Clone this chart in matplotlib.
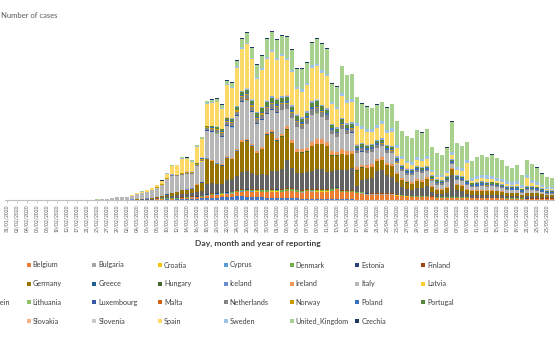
import numpy as np
import pandas as pd
import matplotlib
matplotlib.use("Agg")
import matplotlib.pyplot as plt
from matplotlib.patches import Rectangle

plt.rcParams['font.family'] = ['Lato', 'DejaVu Sans']

# reporting dates (February has gaps)
dates_feb = ['31/01/2020', '01/02/2020', '02/02/2020', '03/02/2020', '04/02/2020', '05/02/2020',
             '06/02/2020', '07/02/2020', '08/02/2020', '09/02/2020', '10/02/2020', '11/02/2020',
             '12/02/2020', '14/02/2020', '17/02/2020', '19/02/2020', '21/02/2020', '22/02/2020',
             '25/02/2020', '26/02/2020', '27/02/2020', '28/02/2020', '29/02/2020', '01/03/2020']
dates_rest = [d.strftime('%d/%m/%Y') for d in pd.date_range('2020-03-02', '2020-05-26')]
dates = dates_feb + dates_rest

countries = ['Austria', 'Belgium', 'Bulgaria', 'Croatia', 'Cyprus', 'Denmark', 'Estonia', 'Finland',
             'France', 'Germany', 'Greece', 'Hungary', 'Iceland', 'Ireland', 'Italy', 'Latvia',
             'Liechtenstein', 'Lithuania', 'Luxembourg', 'Malta', 'Netherlands', 'Norway', 'Poland',
             'Portugal', 'Romania', 'Slovakia', 'Slovenia', 'Spain', 'Sweden', 'United_Kingdom', 'Czechia']

colors = ['#4472C4', '#ED7D31', '#A5A5A5', '#FFC000', '#5B9BD5', '#70AD47',
          '#264478', '#9E480E', '#636363', '#997300', '#255E91', '#43682B',
          '#698ED0', '#F1975A', '#B7B7B7', '#FFCD33', '#7CAFDD', '#8CC168',
          '#335AA1', '#D26012', '#848484', '#CC9A00', '#3A6FC0', '#5A8A39',
          '#8FAADC', '#F4B183', '#C9C9C9', '#FFD966', '#9DC3E6', '#A9D18E', '#203864']

# daily cases, one value per reporting date
austria = [0, 0, 0, 0, 0, 0, 0, 0, 0, 0,
           0, 0, 0, 0, 0, 0, 0, 0, 0, 0,
           0, 2, 0, 3, 4, 5, 8, 10, 14, 30,
           50, 80, 120, 100, 150, 200, 250, 300, 300, 350,
           400, 450, 500, 550, 600, 700, 800, 800, 700, 600,
           600, 550, 500, 450, 450, 400, 400, 350, 350, 300,
           300, 280, 250, 250, 220, 200, 200, 180, 160, 150,
           100, 100, 90, 90, 80, 80, 70, 70, 60, 60,
           60, 50, 50, 50, 50, 40, 40, 40, 40, 40,
           40, 40, 30, 30, 30, 30, 30, 30, 30, 30,
           30, 30, 25, 25, 20, 20, 20, 20, 20, 20]
belgium = [0, 0, 0, 0, 1, 0, 0, 0, 0, 0,
           0, 0, 0, 0, 0, 0, 0, 0, 0, 0,
           0, 0, 0, 2, 6, 5, 19, 31, 39, 52,
           61, 78, 83, 99, 121, 139, 162, 197, 203, 241,
           498, 503, 497, 502, 603, 598, 703, 797, 1003, 996,
           1002, 998, 1004, 1196, 1203, 1198, 1402, 1397, 1203, 1198,
           1403, 1398, 1402, 1396, 1403, 1597, 2004, 1398, 1403, 1396,
           1203, 1197, 1003, 998, 1002, 997, 1003, 1001, 803, 697,
           603, 598, 602, 597, 603, 497, 402, 398, 403, 397,
           402, 398, 401, 297, 302, 298, 303, 297, 301, 298,
           203, 198, 202, 197, 203, 198, 203, 197, 198, 201]
bulgaria = [0, 0, 0, 0, 0, 0, 0, 0, 0, 0,
            0, 0, 0, 0, 0, 0, 0, 0, 0, 0,
            0, 0, 0, 0, 0, 0, 0, 0, 0, 0,
            0, 0, 0, 4, 2, 1, 16, 14, 11, 9,
            20, 20, 30, 20, 25, 30, 35, 30, 25, 20,
            20, 30, 30, 25, 20, 20, 25, 30, 35, 40,
            30, 30, 25, 20, 40, 35, 30, 25, 40, 45,
            50, 40, 35, 30, 30, 25, 40, 40, 30, 25,
            30, 30, 25, 20, 20, 25, 30, 35, 20, 15,
            20, 25, 20, 15, 20, 20, 15, 10, 15, 20,
            15, 10, 15, 20, 15, 10, 10, 15, 10, 10]
croatia = [0, 0, 0, 0, 0, 0, 0, 0, 0, 0,
           0, 0, 0, 0, 0, 0, 0, 0, 0, 0,
           0, 0, 2, 1, 0, 2, 2, 1, 2, 0,
           1, 2, 3, 5, 6, 10, 20, 20, 30, 40,
           50, 60, 70, 80, 70, 60, 80, 70, 60, 70,
           80, 70, 60, 50, 60, 50, 40, 50, 60, 60,
           50, 40, 40, 50, 40, 30, 30, 30, 25, 20,
           20, 20, 15, 15, 10, 10, 10, 10, 10, 10,
           10, 5, 5, 5, 5, 5, 5, 5, 5, 5,
           5, 4, 5, 3, 2, 4, 3, 2, 1, 2,
           1, 1, 0, 1, 1, 0, 1, 0, 1, 0]
cyprus = [0, 0, 0, 0, 0, 0, 0, 0, 0, 0,
          0, 0, 0, 0, 0, 0, 0, 0, 0, 0,
          0, 0, 0, 0, 0, 0, 0, 0, 0, 0,
          0, 0, 0, 2, 4, 6, 10, 15, 10, 20,
          20, 30, 20, 30, 40, 30, 20, 25, 30, 35,
          30, 30, 25, 20, 20, 20, 20, 15, 15, 10,
          10, 10, 10, 10, 8, 8, 8, 6, 6, 5,
          5, 5, 4, 4, 3, 3, 2, 3, 2, 2,
          2, 1, 2, 1, 1, 0, 1, 0, 1, 0,
          1, 0, 0, 1, 0, 0, 0, 1, 0, 0,
          0, 0, 0, 0, 0, 0, 0, 0, 0, 0]
denmark = [0, 0, 0, 0, 0, 0, 0, 0, 0, 0,
           0, 0, 0, 0, 0, 0, 0, 0, 0, 0,
           0, 0, 0, 1, 0, 2, 4, 5, 10, 10,
           80, 150, 250, 200, 100, 100, 90, 80, 100, 100,
           100, 120, 130, 140, 150, 150, 200, 200, 250, 250,
           200, 250, 300, 300, 300, 300, 350, 300, 250, 250,
           250, 250, 250, 250, 250, 250, 220, 200, 200, 180,
           150, 150, 150, 150, 150, 150, 140, 130, 120, 110,
           100, 100, 100, 100, 100, 100, 100, 100, 100, 100,
           100, 90, 90, 80, 80, 80, 80, 80, 80, 80,
           80, 70, 70, 60, 60, 60, 50, 50, 50, 50]
estonia = [0, 0, 0, 0, 0, 0, 0, 0, 0, 0,
           0, 0, 0, 0, 0, 0, 0, 0, 0, 0,
           0, 0, 0, 0, 0, 0, 0, 1, 0, 0,
           2, 1, 7, 11, 20, 30, 40, 30, 60, 40,
           50, 40, 60, 50, 40, 30, 60, 70, 50, 40,
           60, 50, 40, 50, 60, 40, 30, 30, 30, 40,
           30, 40, 30, 30, 20, 20, 15, 15, 15, 10,
           10, 10, 10, 8, 8, 6, 5, 5, 5, 4,
           4, 3, 4, 3, 2, 3, 2, 3, 2, 2,
           3, 2, 2, 1, 2, 2, 1, 2, 1, 1,
           2, 1, 1, 1, 2, 1, 1, 1, 0, 1]
finland = [1, 0, 0, 0, 0, 0, 0, 0, 0, 0,
           0, 0, 0, 0, 0, 0, 0, 0, 0, 0,
           0, 0, 1, 0, 0, 1, 3, 0, 1, 6,
           10, 10, 20, 30, 40, 40, 50, 60, 70, 80,
           80, 80, 80, 90, 100, 100, 100, 120, 120, 120,
           120, 130, 140, 150, 150, 150, 150, 150, 150, 150,
           150, 140, 140, 130, 120, 120, 110, 110, 100, 100,
           100, 100, 100, 90, 90, 90, 80, 80, 70, 70,
           70, 70, 60, 60, 60, 60, 50, 50, 50, 50,
           40, 40, 45, 40, 40, 35, 40, 40, 35, 40,
           40, 35, 40, 30, 40, 35, 30, 40, 35, 30]
france = [5, 0, 0, 0, 0, 0, 0, 0, 5, 0,
          0, 0, 0, 0, 0, 0, 0, 0, 0, 2,
          18, 38, 21, 43, 31, 42, 63, 78, 102, 118,
          163, 197, 298, 402, 497, 603, 598, 611, 797, 1003,
          1998, 2012, 1796, 1812, 2398, 2406, 2796, 3402, 3611, 3198,
          2796, 3004, 2998, 3612, 3588, 4003, 5612, 3996, 3402, 3398,
          3411, 3604, 3996, 4012, 3598, 3603, 3398, 4004, 3989, 4412,
          1196, 2403, 2798, 3012, 4396, 4611, 3604, 3198, 2403, 1602,
          1398, 1196, 1603, 1597, 2004, 803, 597, 611, 802, 4403,
          1398, 1203, 603, 597, 612, 588, 603, 597, 611, 498,
          402, 397, 411, 298, 402, 397, 403, 297, 198, 203]
germany = [5, 1, 2, 0, 2, 0, 0, 1, 1, 0,
           0, 2, 0, 0, 0, 0, 2, 0, 0, 0,
           10, 26, 21, 19, 22, 41, 58, 103, 118, 161,
           197, 243, 302, 498, 603, 797, 812, 897, 1398, 1611,
           4987, 4412, 3996, 3604, 4389, 4012, 4998, 6011, 5987, 5403,
           4396, 5012, 7988, 7604, 6011, 6387, 6002, 4996, 4012, 3989,
           4003, 4997, 5011, 4989, 5004, 2996, 2812, 3196, 3003, 2797,
           3012, 2398, 2203, 2189, 1996, 2004, 1987, 2211, 1602, 1398,
           1203, 1196, 1402, 1197, 1404, 998, 802, 797, 1003, 1196,
           1002, 998, 803, 697, 703, 798, 802, 797, 702, 697,
           598, 603, 597, 402, 601, 597, 603, 498, 401, 397]
greece = [0, 0, 0, 0, 0, 0, 0, 0, 0, 0,
          0, 0, 0, 0, 0, 0, 0, 0, 0, 0,
          0, 1, 2, 1, 3, 0, 1, 0, 0, 1,
          10, 15, 25, 31, 10, 20, 40, 30, 30, 30,
          30, 40, 40, 60, 40, 50, 60, 60, 70, 70,
          60, 50, 40, 50, 60, 70, 50, 40, 30, 50,
          40, 30, 20, 20, 25, 30, 20, 15, 25, 20,
          15, 20, 15, 10, 10, 15, 10, 15, 10, 10,
          10, 10, 10, 10, 10, 10, 10, 10, 10, 10,
          10, 5, 10, 5, 5, 10, 5, 5, 10, 5,
          5, 5, 10, 5, 5, 5, 10, 5, 5, 5]
hungary = [0, 0, 0, 0, 0, 0, 0, 0, 0, 0,
           0, 0, 0, 0, 0, 0, 0, 0, 0, 0,
           0, 0, 0, 0, 0, 0, 0, 0, 0, 0,
           0, 2, 3, 4, 9, 5, 7, 11, 10, 20,
           20, 20, 30, 30, 40, 50, 40, 30, 30, 40,
           40, 50, 50, 60, 70, 80, 100, 90, 70, 60,
           60, 70, 80, 100, 90, 80, 70, 60, 80, 90,
           80, 70, 60, 60, 50, 50, 40, 40, 30, 30,
           30, 30, 30, 25, 25, 20, 20, 20, 20, 20,
           20, 15, 20, 15, 15, 20, 15, 10, 15, 10,
           10, 15, 10, 10, 15, 10, 10, 5, 10, 10]
iceland = [0, 0, 0, 0, 0, 0, 0, 0, 0, 0,
           0, 0, 0, 0, 0, 0, 0, 0, 0, 0,
           0, 0, 0, 1, 2, 3, 6, 10, 20, 10,
           10, 20, 30, 20, 20, 30, 40, 50, 60, 70,
           60, 70, 80, 90, 80, 70, 60, 80, 90, 60,
           50, 40, 30, 30, 40, 30, 20, 20, 25, 20,
           15, 10, 10, 10, 8, 6, 5, 5, 4, 3,
           2, 2, 1, 2, 1, 1, 0, 1, 0, 1,
           0, 0, 1, 0, 0, 0, 0, 1, 0, 0,
           0, 0, 0, 0, 0, 0, 1, 0, 0, 0,
           0, 0, 0, 0, 0, 0, 0, 0, 0, 0]
ireland = [0, 0, 0, 0, 0, 0, 0, 0, 0, 0,
           0, 0, 0, 0, 0, 0, 0, 0, 0, 0,
           0, 0, 0, 1, 0, 1, 0, 0, 0, 2,
           5, 6, 10, 14, 19, 22, 26, 31, 40, 50,
           70, 100, 120, 130, 150, 170, 200, 220, 240, 280,
           300, 330, 350, 370, 400, 400, 500, 450, 500, 550,
           600, 700, 1000, 900, 800, 800, 600, 900, 700, 650,
           600, 550, 500, 500, 450, 500, 450, 400, 350, 330,
           300, 280, 300, 260, 240, 200, 180, 170, 190, 160,
           150, 140, 130, 120, 110, 100, 90, 80, 75, 70,
           60, 55, 50, 45, 55, 50, 40, 35, 30, 30]
italy = [0, 0, 0, 0, 0, 0, 0, 1, 0, 0,
         0, 0, 0, 0, 0, 1, 14, 62, 96, 158,
         204, 262, 588, 466, 503, 712, 996, 1184, 1327, 1596,
         1812, 2196, 3013, 3405, 3197, 2986, 3032, 2779, 3611, 4017,
         5386, 5612, 5794, 5410, 5987, 6023, 6589, 7612, 7608, 6411,
         5398, 5417, 3612, 4006, 4985, 4813, 3402, 4395, 4410, 3986,
         4801, 5392, 5014, 4398, 4405, 3417, 2986, 4003, 3411, 3592,
         2807, 2611, 2389, 2412, 2196, 2208, 1996, 2214, 1805, 1389,
         1207, 1402, 1396, 1411, 1198, 1002, 802, 795, 1013, 793,
         812, 804, 798, 602, 697, 801, 702, 795, 703, 598,
         504, 497, 502, 398, 603, 597, 499, 401, 302, 297]
latvia = [0, 0, 0, 0, 0, 0, 0, 0, 0, 0,
          0, 0, 0, 0, 0, 0, 0, 0, 0, 0,
          0, 0, 0, 0, 1, 0, 0, 0, 0, 0,
          0, 1, 2, 5, 4, 8, 10, 15, 20, 20,
          20, 25, 30, 30, 25, 20, 30, 25, 20, 15,
          20, 15, 10, 15, 10, 10, 15, 10, 8, 10,
          10, 8, 6, 8, 10, 6, 5, 8, 6, 5,
          5, 6, 5, 4, 5, 6, 4, 5, 4, 3,
          4, 3, 5, 4, 3, 2, 4, 3, 2, 3,
          2, 3, 2, 2, 1, 2, 3, 2, 1, 2,
          1, 2, 1, 1, 2, 1, 1, 0, 1, 1]
liechtenstein = [0, 0, 0, 0, 0, 0, 0, 0, 0, 0,
                 0, 0, 0, 0, 0, 0, 0, 0, 0, 0,
                 0, 0, 0, 0, 0, 0, 0, 0, 0, 0,
                 0, 1, 0, 2, 1, 3, 4, 2, 3, 5,
                 4, 3, 5, 2, 4, 3, 2, 4, 3, 2,
                 1, 2, 3, 1, 2, 1, 0, 1, 2, 0,
                 1, 0, 0, 1, 0, 0, 1, 0, 0, 0,
                 0, 0, 0, 0, 0, 0, 0, 0, 0, 0,
                 0, 0, 0, 0, 0, 0, 0, 0, 0, 0,
                 0, 0, 0, 0, 0, 0, 0, 0, 0, 0,
                 0, 0, 0, 0, 0, 0, 0, 0, 0, 0]
lithuania = [0, 0, 0, 0, 0, 0, 0, 0, 0, 0,
             0, 0, 0, 0, 0, 0, 0, 0, 0, 0,
             0, 0, 1, 0, 0, 0, 0, 0, 0, 0,
             0, 0, 1, 2, 3, 5, 7, 10, 20, 20,
             30, 40, 50, 40, 40, 50, 40, 60, 50, 40,
             40, 50, 60, 40, 50, 30, 40, 30, 20, 30,
             20, 30, 40, 20, 20, 15, 15, 10, 20, 15,
             10, 15, 10, 12, 8, 10, 6, 8, 10, 6,
             8, 6, 5, 8, 6, 5, 4, 6, 5, 4,
             5, 4, 3, 5, 4, 3, 2, 4, 3, 2,
             3, 2, 3, 2, 4, 3, 2, 3, 2, 2]
luxembourg = [0, 0, 0, 0, 0, 0, 0, 0, 0, 0,
              0, 0, 0, 0, 0, 0, 0, 0, 0, 0,
              0, 0, 0, 1, 0, 0, 0, 0, 0, 0,
              0, 0, 1, 2, 5, 10, 20, 30, 40, 50,
              80, 100, 120, 150, 200, 200, 150, 150, 150, 150,
              100, 100, 80, 80, 60, 60, 60, 50, 40, 40,
              40, 30, 30, 30, 20, 20, 20, 20, 20, 15,
              10, 12, 10, 8, 10, 9, 10, 8, 7, 10,
              8, 6, 10, 7, 5, 8, 6, 4, 5, 6,
              5, 4, 5, 3, 4, 5, 3, 4, 5, 3,
              4, 3, 5, 2, 4, 3, 4, 2, 3, 4]
malta = [0, 0, 0, 0, 0, 0, 0, 0, 0, 0,
         0, 0, 0, 0, 0, 0, 0, 0, 0, 0,
         0, 0, 0, 0, 0, 0, 0, 0, 0, 0,
         0, 0, 1, 2, 2, 3, 5, 10, 10, 10,
         10, 10, 15, 15, 10, 10, 15, 10, 10, 15,
         10, 8, 10, 8, 10, 8, 6, 5, 5, 6,
         5, 4, 5, 4, 3, 3, 2, 2, 3, 2,
         2, 1, 2, 1, 2, 1, 1, 2, 1, 1,
         2, 1, 1, 1, 2, 1, 1, 1, 1, 2,
         1, 1, 1, 2, 1, 1, 1, 1, 2, 1,
         1, 1, 1, 1, 1, 2, 1, 1, 1, 1]
netherlands = [0, 0, 0, 0, 0, 0, 0, 0, 0, 0,
               0, 0, 0, 0, 0, 0, 0, 0, 0, 0,
               0, 0, 0, 1, 5, 6, 14, 20, 24, 44,
               60, 70, 80, 120, 130, 150, 170, 190, 240, 280,
               400, 450, 500, 540, 580, 600, 700, 800, 850, 850,
               900, 900, 1000, 1050, 1100, 1100, 1000, 1000, 950, 900,
               1000, 1100, 1050, 1000, 900, 700, 750, 850, 800, 750,
               600, 600, 550, 550, 500, 500, 500, 450, 450, 400,
               400, 380, 350, 350, 320, 300, 280, 260, 250, 240,
               250, 230, 220, 200, 200, 200, 190, 180, 170, 160,
               150, 140, 140, 130, 120, 120, 110, 100, 100, 100]
norway = [0, 0, 0, 0, 0, 0, 0, 0, 0, 0,
          0, 0, 0, 0, 0, 0, 0, 0, 0, 0,
          0, 0, 1, 0, 0, 6, 15, 30, 20, 30,
          100, 150, 150, 100, 100, 200, 200, 150, 150, 200,
          200, 250, 250, 300, 300, 300, 250, 250, 250, 250,
          250, 250, 200, 200, 200, 200, 200, 150, 150, 100,
          100, 100, 100, 80, 80, 80, 70, 70, 70, 70,
          70, 60, 60, 60, 60, 50, 50, 50, 50, 50,
          50, 40, 40, 40, 30, 30, 30, 30, 20, 20,
          20, 20, 20, 20, 15, 15, 15, 15, 15, 15,
          10, 10, 10, 10, 10, 10, 10, 10, 10, 10]
poland = [0, 0, 0, 0, 0, 0, 0, 0, 0, 0,
          0, 0, 0, 0, 0, 0, 0, 0, 0, 0,
          0, 0, 0, 0, 0, 1, 0, 0, 0, 4,
          5, 5, 10, 20, 15, 20, 30, 40, 50, 60,
          50, 70, 80, 90, 100, 100, 120, 150, 180, 200,
          200, 220, 250, 250, 300, 300, 300, 350, 350, 400,
          400, 380, 370, 360, 350, 350, 300, 320, 340, 330,
          300, 320, 330, 340, 350, 350, 340, 330, 320, 310,
          300, 300, 310, 320, 300, 300, 300, 290, 310, 300,
          300, 320, 330, 340, 350, 350, 340, 330, 320, 310,
          300, 310, 320, 300, 290, 300, 310, 300, 300, 300]
portugal = [0, 0, 0, 0, 0, 0, 0, 0, 0, 0,
            0, 0, 0, 0, 0, 0, 0, 0, 0, 0,
            0, 0, 0, 0, 2, 0, 2, 0, 4, 2,
            8, 10, 11, 17, 20, 30, 40, 50, 70, 100,
            200, 250, 300, 350, 400, 500, 550, 600, 650, 700,
            700, 750, 800, 800, 850, 800, 850, 750, 700, 700,
            700, 800, 900, 700, 650, 600, 550, 700, 650, 600,
            500, 450, 450, 400, 400, 400, 380, 360, 350, 320,
            300, 300, 280, 300, 300, 300, 280, 270, 300, 280,
            250, 250, 260, 240, 250, 250, 240, 230, 250, 240,
            250, 230, 220, 200, 230, 220, 210, 200, 200, 200]
romania = [0, 0, 0, 0, 0, 0, 0, 0, 0, 0,
           0, 0, 0, 0, 0, 0, 0, 0, 0, 1,
           0, 0, 1, 0, 0, 0, 0, 2, 1, 2,
           4, 2, 3, 10, 5, 10, 15, 20, 30, 40,
           50, 60, 80, 100, 120, 150, 180, 200, 220, 250,
           250, 260, 280, 300, 300, 300, 320, 300, 300, 300,
           300, 310, 300, 290, 300, 300, 280, 300, 290, 280,
           250, 260, 250, 240, 250, 250, 240, 230, 220, 210,
           200, 210, 200, 190, 200, 200, 190, 190, 180, 200,
           180, 180, 170, 170, 170, 170, 160, 160, 150, 150,
           150, 150, 140, 140, 140, 130, 130, 130, 130, 130]
slovakia = [0, 0, 0, 0, 0, 0, 0, 0, 0, 0,
            0, 0, 0, 0, 0, 0, 0, 0, 0, 0,
            0, 0, 0, 0, 0, 0, 0, 0, 0, 0,
            0, 0, 1, 2, 3, 5, 10, 20, 20, 20,
            20, 30, 20, 30, 20, 20, 30, 40, 30, 20,
            20, 30, 40, 50, 40, 60, 70, 50, 30, 40,
            30, 20, 20, 15, 20, 10, 10, 10, 8, 6,
            5, 4, 5, 3, 4, 5, 3, 2, 4, 3,
            2, 3, 2, 4, 3, 2, 3, 2, 2, 3,
            2, 2, 3, 2, 1, 2, 2, 1, 2, 1,
            2, 1, 1, 2, 1, 1, 2, 1, 1, 1]
slovenia = [0, 0, 0, 0, 0, 0, 0, 0, 0, 0,
            0, 0, 0, 0, 0, 0, 0, 0, 0, 0,
            0, 0, 0, 0, 0, 1, 0, 0, 1, 4,
            0, 0, 1, 5, 10, 20, 40, 50, 40, 30,
            40, 30, 30, 40, 30, 20, 30, 40, 30, 30,
            30, 40, 30, 30, 20, 30, 20, 20, 20, 15,
            15, 10, 10, 8, 8, 6, 6, 5, 5, 4,
            3, 2, 3, 2, 1, 2, 3, 1, 2, 1,
            2, 1, 1, 2, 1, 1, 2, 1, 1, 1,
            1, 2, 1, 1, 1, 1, 1, 2, 1, 1,
            1, 1, 1, 1, 1, 1, 1, 1, 1, 1]
spain = [0, 0, 0, 0, 0, 0, 0, 0, 0, 1,
         0, 0, 0, 0, 0, 0, 0, 0, 4, 6,
         13, 21, 38, 41, 62, 98, 163, 197, 244, 301,
         402, 497, 812, 1598, 1806, 2794, 2410, 1988, 3204, 3612,
         4396, 4611, 4789, 3994, 6412, 5987, 7624, 8378, 8813, 7996,
         6603, 7412, 8203, 8804, 7611, 7988, 7012, 6611, 4987, 5012,
         5198, 6604, 6612, 6389, 6405, 3996, 3612, 4404, 3987, 4011,
         3607, 2804, 2611, 2398, 2402, 2789, 2412, 2803, 1598, 1203,
         998, 803, 1196, 1212, 1404, 602, 398, 411, 597, 803,
         1004, 996, 3412, 402, 603, 597, 611, 589, 402, 398,
         411, 297, 402, 198, 1603, 597, 402, 203, 97, 104]
sweden = [0, 0, 0, 0, 1, 0, 0, 0, 0, 0,
          0, 0, 0, 0, 0, 0, 0, 0, 0, 0,
          0, 1, 5, 0, 1, 0, 5, 1, 15, 36,
          60, 100, 155, 161, 61, 87, 104, 86, 100, 100,
          110, 120, 130, 150, 180, 200, 250, 280, 300, 300,
          300, 350, 400, 400, 450, 400, 500, 450, 500, 500,
          500, 550, 500, 480, 450, 400, 450, 500, 550, 600,
          600, 650, 600, 550, 600, 600, 650, 700, 600, 550,
          500, 550, 600, 500, 550, 500, 450, 500, 550, 600,
          600, 650, 600, 550, 600, 600, 650, 600, 550, 600,
          600, 550, 600, 500, 600, 650, 600, 550, 500, 500]
united_kingdom = [2, 0, 0, 0, 0, 0, 0, 0, 0, 1,
                  0, 1, 0, 0, 0, 0, 0, 0, 4, 0,
                  0, 2, 4, 12, 13, 4, 11, 34, 30, 48,
                  20, 62, 58, 102, 98, 203, 197, 204, 298, 302,
                  403, 398, 602, 597, 703, 798, 1004, 1598, 2003, 1996,
                  2398, 2403, 3597, 3612, 3589, 3604, 4011, 3996, 3602, 4003,
                  3997, 4402, 4996, 5203, 4998, 3603, 3996, 5402, 4997, 5003,
                  5198, 4403, 4397, 4203, 3996, 3802, 4396, 4797, 4803, 5004,
                  4996, 4803, 5397, 5203, 5404, 4596, 4403, 3997, 4603, 5998,
                  4796, 4403, 3597, 3402, 3798, 4003, 3596, 4197, 3998, 3803,
                  2997, 2803, 3196, 1998, 3003, 3197, 2803, 2198, 1996, 1802]
czechia = [0, 0, 0, 0, 0, 0, 0, 0, 0, 0,
           0, 0, 0, 0, 0, 0, 0, 0, 0, 0,
           0, 0, 0, 3, 0, 2, 0, 0, 4, 11,
           6, 9, 12, 20, 30, 40, 60, 50, 50, 50,
           100, 120, 150, 160, 180, 200, 250, 250, 250, 250,
           250, 250, 250, 230, 220, 200, 200, 200, 200, 200,
           200, 180, 170, 160, 150, 150, 140, 130, 120, 110,
           100, 100, 90, 90, 80, 80, 80, 70, 70, 60,
           60, 60, 50, 50, 50, 50, 50, 50, 50, 50,
           40, 40, 40, 40, 50, 50, 50, 50, 50, 50,
           50, 50, 45, 45, 40, 40, 40, 40, 40, 40]

series = [austria, belgium, bulgaria, croatia, cyprus, denmark, estonia, finland,
          france, germany, greece, hungary, iceland, ireland, italy, latvia,
          liechtenstein, lithuania, luxembourg, malta, netherlands, norway, poland,
          portugal, romania, slovakia, slovenia, spain, sweden, united_kingdom, czechia]

bad = [c for c, s in zip(countries, series) if len(s) != len(dates)]
if bad:
    raise ValueError(f"wrong length: {bad}")

W, H = 555, 356


def fx(px):
    return px / W


def fy(py):
    return 1 - py / H


fig = plt.figure(figsize=(W / 100, H / 100), dpi=100)
ax = fig.add_axes([fx(4.5), fy(200), fx(550), 180 / H])

x = np.arange(len(dates))
bottom = np.zeros(len(dates))
for name, vals, col in zip(countries, series, colors):
    vals = np.array(vals, dtype=float)
    ax.bar(x, vals, width=0.78, bottom=bottom, color=col, linewidth=0, label=name)
    bottom += vals

ax.set_xlim(-0.5, len(dates) - 0.5)
ax.set_ylim(0, 36000)
for s in ['top', 'right', 'left']:
    ax.spines[s].set_visible(False)
ax.spines['bottom'].set_color('#bfbfbf')
ax.spines['bottom'].set_linewidth(0.8)
ax.set_yticks([])
ax.set_xticks(x[::2])
ax.set_xticklabels(dates[::2], rotation=90, fontsize=3.6, color='#595959')
ax.tick_params(axis='x', length=2, width=0.5, color='#bfbfbf', pad=1.5)

fig.text(fx(1), fy(15), 'Number of cases', fontsize=5.5, color='#595959', ha='left', va='center')
fig.text(fx(258), fy(243), 'Day, month and year of reporting', fontsize=6.1, fontweight='bold',
         color='#404040', ha='center', va='center')

# legend drawn as an Excel-style grid, 8 entries per row; the first column sits
# past the left edge, as in the cropped original, so only the long name peeks in
for i, (name, col) in enumerate(zip(countries, colors)):
    row, c = divmod(i, 8)
    px = -39 + 65.7 * c
    py = 265 + 18.7 * row
    if c == 0 and name != 'Liechtenstein':
        continue
    fig.add_artist(Rectangle((fx(px), fy(py + 2)), fx(4), 4 / H, color=col,
                             transform=fig.transFigure, linewidth=0))
    fig.text(fx(px + 6), fy(py), name, fontsize=5.2, color='#404040', ha='left', va='center')

fig.savefig('out.png', dpi=100)
